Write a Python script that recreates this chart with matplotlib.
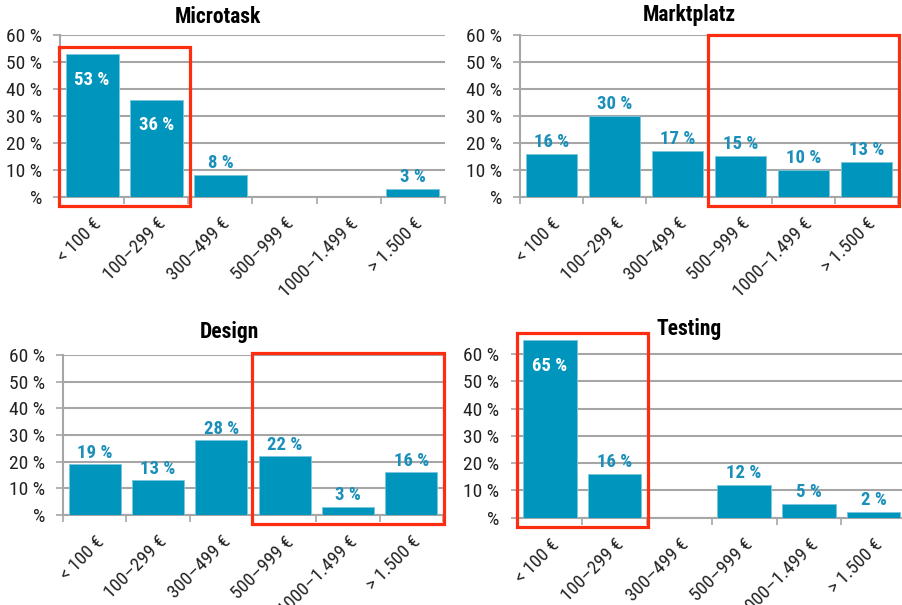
import matplotlib
matplotlib.use('Agg')
import matplotlib.pyplot as plt
from matplotlib.patches import Rectangle
from matplotlib.ticker import FixedLocator

plt.rcParams['font.family'] = ['Roboto Condensed', 'DejaVu Sans']
plt.rcParams['font.stretch'] = 'condensed'

categories = ['< 100 €', '100–299 €', '300–499 €', '500–999 €', '1000–1.499 €', '> 1.500 €']
y_ticks = [0, 10, 20, 30, 40, 50, 60]
y_ticklabels = ['%', '10 %', '20 %', '30 %', '40 %', '50 %', '60 %']

microtask = [53, 36, 8, 0, 0, 3]
marktplatz = [16, 30, 17, 15, 10, 13]
design = [19, 13, 28, 22, 3, 16]
testing = [65, 16, 0, 12, 5, 2]

BAR = '#0095BD'
LABEL = '#1A8FB9'
GRID = '#A6A6A6'
RED = '#FF2D0F'

W, H = 902, 605
fig = plt.figure(figsize=(W / 100, H / 100), dpi=100)


def px_axes(left, right, top, bottom):
    return fig.add_axes([left / W, 1 - bottom / H, (right - left) / W, (bottom - top) / H])


# title, values, axes box in px (left, right, top, bottom), ymax, title pos (px), highlight (first, last, top)
panels = [
    ('Microtask', microtask, (60, 445, 35, 196.7), 60, (218, 17), (0, 1, 55.7)),
    ('Marktplatz', marktplatz, (520, 898, 35, 196.7), 60, (689, 15), (3, 5, 59.9)),
    ('Design', design, (63, 443, 355, 515), 60, (229, 332), (3, 5, 60.9)),
    ('Testing', testing, (517.5, 906, 340.4, 517.7), 65, (689, 329), (0, 1, 67.6)),
]

for title, values, box, ymax, tpos, hl in panels:
    ax = px_axes(*box)
    x = range(len(categories))
    ax.bar(x, values, width=0.825, color=BAR, edgecolor='#7CC6DC', linewidth=0.6, zorder=3)
    ax.set_xlim(-0.5, 5.5)
    ax.set_ylim(0, ymax)

    ax.set_yticks(y_ticks)
    ax.set_yticklabels(y_ticklabels, fontsize=14, color='#222222')
    ax.yaxis.grid(True, color=GRID, linewidth=1.5, zorder=0)
    ax.tick_params(axis='y', length=5, width=1.2, color=GRID, pad=8)

    ax.set_xticks(list(x))
    ax.set_xticklabels(categories, fontsize=13.5, rotation=45, ha='right',
                       rotation_mode='anchor', color='#222222')
    ax.tick_params(axis='x', which='major', length=0, pad=13)
    ax.xaxis.set_minor_locator(FixedLocator([i - 0.5 for i in range(len(categories) + 1)]))
    ax.tick_params(axis='x', which='minor', length=5, width=1.2, color=GRID)

    for s in ['top', 'right']:
        ax.spines[s].set_visible(False)
    for s in ['left', 'bottom']:
        ax.spines[s].set_color(GRID)
        ax.spines[s].set_linewidth(1.5)
    ax.set_axisbelow(True)

    for i, v in enumerate(values):
        if v == 0:
            continue
        if v > 32:
            ax.annotate(f'{v} %', (i, v), xytext=(0, -12), textcoords='offset points',
                        ha='center', va='top', fontsize=13.5, fontweight='bold',
                        color='white', zorder=5)
        else:
            ax.annotate(f'{v} %', (i, v), xytext=(0, 2), textcoords='offset points',
                        ha='center', va='bottom', fontsize=13.5, fontweight='bold',
                        color=LABEL, zorder=5)

    fig.text(tpos[0] / W, 1 - tpos[1] / H, title, ha='center', va='center',
             fontsize=15.5, fontweight='bold', color='black')

    first, last, top = hl
    x0 = first - 0.51
    x1 = last + 0.52
    y0 = -3.5
    ax.add_patch(Rectangle((x0, y0), x1 - x0, top - y0, fill=False, edgecolor=RED,
                           linewidth=2.3, clip_on=False, zorder=6))

fig.savefig('out.png', dpi=100)
